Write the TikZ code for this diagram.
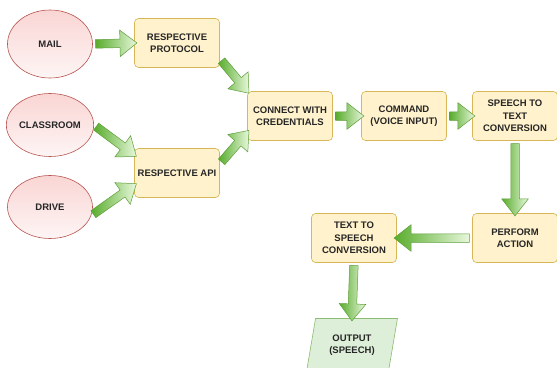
\documentclass[tikz,border=0pt]{standalone}
\usepackage{fontspec}
\setmainfont{Liberation Sans}
\usepackage{xcolor}
\usetikzlibrary{shapes.geometric,shapes.arrows,calc}

\definecolor{pinkfill}{HTML}{F8CECC}
\definecolor{pinkline}{HTML}{B85450}
\definecolor{boxfill}{HTML}{FFF2CC}
\definecolor{boxline}{HTML}{D6B656}
\definecolor{outfill}{HTML}{DDEFD8}
\definecolor{outline}{HTML}{8CBB72}
\definecolor{flowdark}{HTML}{58AC2C}
\definecolor{flowlight}{HTML}{E8F8DC}
\definecolor{flowline}{HTML}{5E9E3A}

\newcommand{\flow}[2]{%
  \path let \p1=($(#2)-(#1)$), \n1={veclen(\x1,\y1)} in
    (#1) -- node[flowarrow, minimum height=\n1] {} (#2);}

\begin{document}
\begin{tikzpicture}[
  x=1pt, y=-1pt,
  every node/.style={font=\bfseries\fontsize{9.5}{12.5}\selectfont, text=black!85},
  source/.style={ellipse, draw=pinkline, line width=0.6pt, top color=pinkfill!85, bottom color=pinkfill!20,
    minimum width=85pt, minimum height=63pt, inner sep=0pt},
  stepbox/.style={rectangle, rounded corners=4pt, draw=boxline, line width=0.6pt, fill=boxfill,
    minimum width=85pt, minimum height=49pt, align=center, inner sep=2pt},
  result/.style={trapezium, trapezium left angle=77, trapezium right angle=103, trapezium stretches,
    draw=outline, line width=0.6pt, fill=outfill, minimum width=91pt, minimum height=53pt, align=center},
  flowarrow/.style={single arrow, draw=flowline, line width=0.5pt, left color=flowdark, right color=flowlight,
    minimum width=24pt, single arrow head extend=9pt, single arrow tip angle=76, single arrow head indent=0pt,
    inner xsep=0pt, inner ysep=4pt, text height=0pt, text depth=0pt, sloped, allow upside down, anchor=center}
]
  \useasboundingbox (0,0) rectangle (557,367);
  \clip (0,0) rectangle (557,367);

  \node[source, minimum height=68pt] (mail) at (50,44) {MAIL};
  \node[source] (classroom) at (50,125) {CLASSROOM};
  \node[source] (drive) at (50,207) {DRIVE};

  \node[stepbox] (protocol) at (177,43) {RESPECTIVE\\PROTOCOL};
  \node[stepbox] (api) at (177,173) {RESPECTIVE API};
  \node[stepbox] (connect) at (290,116) {CONNECT WITH\\CREDENTIALS};
  \node[stepbox] (command) at (404,116) {COMMAND\\(VOICE INPUT)};
  \node[stepbox] (stt) at (515,116) {SPEECH TO\\TEXT\\CONVERSION};
  \node[stepbox] (perform) at (515,238) {PERFORM\\ACTION};
  \node[stepbox] (tts) at (354,238) {TEXT TO\\SPEECH\\CONVERSION};
  \node[result] (output) at (352,345) {OUTPUT\\(SPEECH)};

  \flow{mail.east}{protocol.west}
  \flow{protocol.-20}{connect.north west}
  \flow{classroom.east}{api.157}
  \flow{drive.-12}{api.196}
  \flow{api.12}{connect.201}
  \flow{connect.east}{command.west}
  \flow{command.east}{stt.west}
  \flow{stt.south}{perform.north}
  \flow{perform.west}{tts.east}
  \flow{tts.south}{output.north}
\end{tikzpicture}
\end{document}
